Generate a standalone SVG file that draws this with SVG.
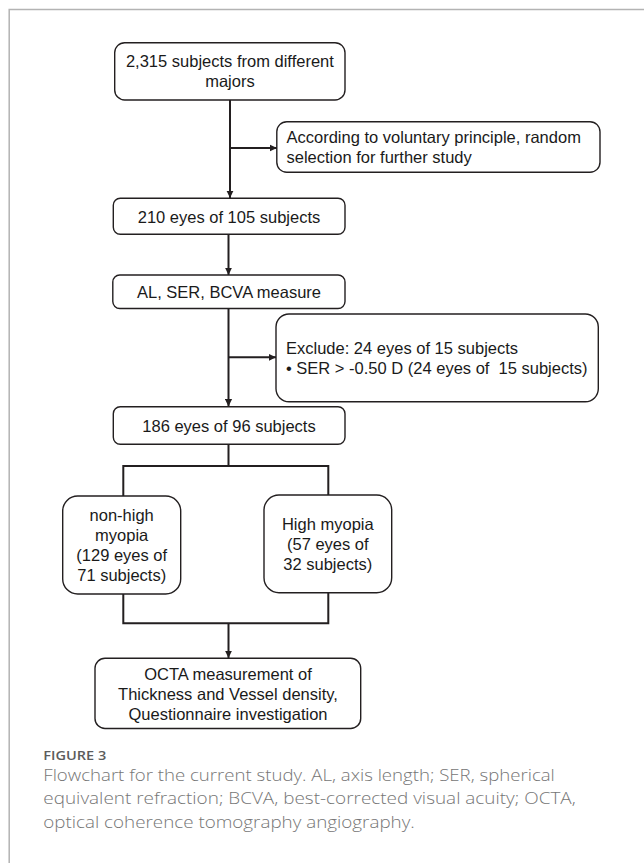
<svg xmlns="http://www.w3.org/2000/svg" width="644" height="863" viewBox="0 0 644 863">
<style>
.box{fill:#fff;stroke:#231f20;stroke-width:1.4}
.t{font-family:"Liberation Sans",Arial,sans-serif;font-size:16.5px;fill:#1a1a1a}
.c{text-anchor:middle}
.ln{fill:none;stroke:#231f20;stroke-width:2}
.cap{font-family:"Open Sans","Liberation Sans",sans-serif;font-size:15.5px;font-weight:300;fill:#767676}
.fig{font-family:"Open Sans","Liberation Sans",sans-serif;font-size:13px;font-weight:600;fill:#5c5c5c}
</style>
<defs>
<marker id="ah" markerUnits="userSpaceOnUse" markerWidth="8" markerHeight="8" viewBox="0 0 8 8" refX="7.5" refY="4" orient="auto">
<path d="M0,0.4 L7.5,4 L0,7.6 z" fill="#231f20"/>
</marker>
</defs>
<rect width="644" height="863" fill="#fff"/>
<path d="M9.2,863 V9.5 H644" fill="none" stroke="#b3b3b3" stroke-width="1.5"/>

<g id="connectors">
<path class="ln" d="M230,100 V198" marker-end="url(#ah)"/>
<path class="ln" d="M230,148 H277" marker-end="url(#ah)"/>
<path class="ln" d="M228.5,234.3 V275" marker-end="url(#ah)"/>
<path class="ln" d="M228.5,308.5 V406.5" marker-end="url(#ah)"/>
<path class="ln" d="M228.5,357.3 H276" marker-end="url(#ah)"/>
<path class="ln" d="M228.5,444.3 V466 M123.3,496 V466 H328.3 V495"/>
<path class="ln" d="M123.3,594 V623.3 H328.3 V592.7"/>
<path class="ln" d="M228.5,623.3 V658" marker-end="url(#ah)"/>
</g>

<g id="n1">
<rect class="box" x="114.7" y="42.7" width="230.3" height="57.3" rx="10"/>
<text class="t c" x="229.9" y="67.3">2,315 subjects from different</text>
<text class="t c" x="229.9" y="87.3">majors</text>
</g>
<g id="n2">
<rect class="box" x="276.8" y="121.7" width="323.2" height="50.6" rx="10"/>
<text class="t" x="286.5" y="143">According to voluntary principle, random</text>
<text class="t" x="286.5" y="163.2">selection for further study</text>
</g>
<g id="n3">
<rect class="box" x="113.3" y="198.3" width="231.7" height="36" rx="7"/>
<text class="t c" x="229" y="222.6">210 eyes of 105 subjects</text>
</g>
<g id="n4">
<rect class="box" x="112.8" y="275" width="232.2" height="33.5" rx="7"/>
<text class="t c" x="229" y="297.7">AL, SER, BCVA measure</text>
</g>
<g id="n5">
<rect class="box" x="276" y="314" width="322.3" height="87.7" rx="13"/>
<text class="t" x="286" y="354.3">Exclude: 24 eyes of 15 subjects</text>
<text class="t" x="286" y="373.8" xml:space="preserve">• SER &gt; -0.50 D (24 eyes of  15 subjects)</text>
</g>
<g id="n6">
<rect class="box" x="113.3" y="406.7" width="231.7" height="37.6" rx="7"/>
<text class="t c" x="229" y="431.5">186 eyes of 96 subjects</text>
</g>
<g id="n7">
<rect class="box" x="62.7" y="496" width="118" height="98" rx="15"/>
<text class="t c" x="121.7" y="521">non-high</text>
<text class="t c" x="121.7" y="541">myopia</text>
<text class="t c" x="121.7" y="561">(129 eyes of</text>
<text class="t c" x="121.7" y="580.5">71 subjects)</text>
</g>
<g id="n8">
<rect class="box" x="264" y="495" width="127.7" height="97.7" rx="15"/>
<text class="t c" x="327.8" y="530">High myopia</text>
<text class="t c" x="327.8" y="550">(57 eyes of</text>
<text class="t c" x="327.8" y="570">32 subjects)</text>
</g>
<g id="n9">
<rect class="box" x="95" y="658.3" width="265.7" height="70.2" rx="10"/>
<text class="t c" x="228" y="680">OCTA measurement of</text>
<text class="t c" x="228" y="700">Thickness and Vessel density,</text>
<text class="t c" x="228" y="719.5">Questionnaire investigation</text>
</g>

<g id="caption">
<text class="fig" x="43.3" y="759.5" textLength="63" lengthAdjust="spacingAndGlyphs">FIGURE 3</text>
<text class="cap" x="43.3" y="780.5" textLength="511.5" lengthAdjust="spacingAndGlyphs">Flowchart for the current study. AL, axis length; SER, spherical</text>
<text class="cap" x="43.3" y="804.3" textLength="532.5" lengthAdjust="spacingAndGlyphs">equivalent refraction; BCVA, best-corrected visual acuity; OCTA,</text>
<text class="cap" x="43.3" y="828" textLength="371.5" lengthAdjust="spacingAndGlyphs">optical coherence tomography angiography.</text>
</g>
</svg>
